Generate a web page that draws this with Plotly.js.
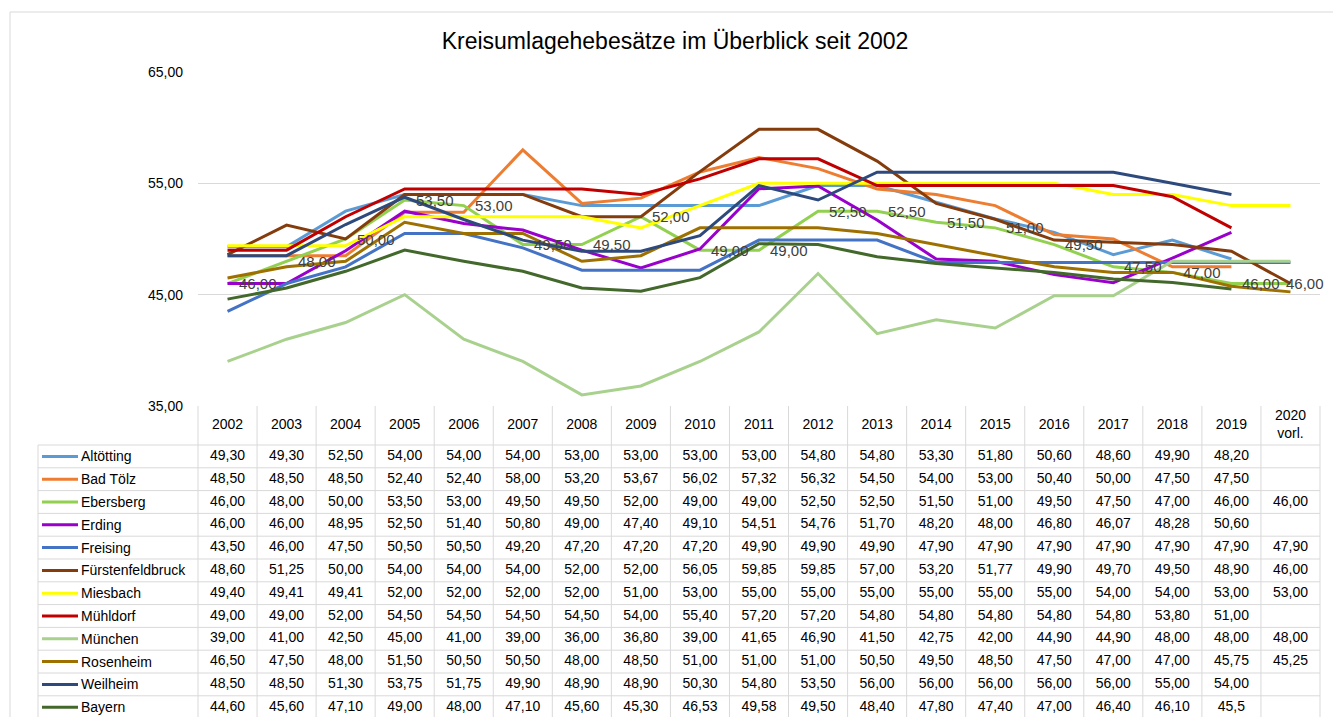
<!DOCTYPE html>
<html>
<head>
<meta charset="utf-8">
<script src="https://cdn.plot.ly/plotly-3.0.1.min.js"></script>
<style>
  html, body { margin: 0; padding: 0; background: #fff; }
  #chart { width: 1333px; height: 717px; }
</style>
</head>
<body>
<div id="chart"></div>
<script>
// ---------------- DATA ----------------
const years = ['2002','2003','2004','2005','2006','2007','2008','2009','2010','2011','2012','2013','2014','2015','2016','2017','2018','2019','2020<br>vorl.'];

const seriesNames = ['Altötting','Bad Tölz','Ebersberg','Erding','Freising','Fürstenfeldbruck','Miesbach','Mühldorf','München','Rosenheim','Weilheim','Bayern'];

const altoetting       = [49.30,49.30,52.50,54.00,54.00,54.00,53.00,53.00,53.00,53.00,54.80,54.80,53.30,51.80,50.60,48.60,49.90,48.20,null];
const badToelz         = [48.50,48.50,48.50,52.40,52.40,58.00,53.20,53.67,56.02,57.32,56.32,54.50,54.00,53.00,50.40,50.00,47.50,47.50,null];
const ebersberg        = [46.00,48.00,50.00,53.50,53.00,49.50,49.50,52.00,49.00,49.00,52.50,52.50,51.50,51.00,49.50,47.50,47.00,46.00,46.00];
const erding           = [46.00,46.00,48.95,52.50,51.40,50.80,49.00,47.40,49.10,54.51,54.76,51.70,48.20,48.00,46.80,46.07,48.28,50.60,null];
const freising         = [43.50,46.00,47.50,50.50,50.50,49.20,47.20,47.20,47.20,49.90,49.90,49.90,47.90,47.90,47.90,47.90,47.90,47.90,47.90];
const fuerstenfeldbruck= [48.60,51.25,50.00,54.00,54.00,54.00,52.00,52.00,56.05,59.85,59.85,57.00,53.20,51.77,49.90,49.70,49.50,48.90,46.00];
const miesbach         = [49.40,49.41,49.41,52.00,52.00,52.00,52.00,51.00,53.00,55.00,55.00,55.00,55.00,55.00,55.00,54.00,54.00,53.00,53.00];
const muehldorf        = [49.00,49.00,52.00,54.50,54.50,54.50,54.50,54.00,55.40,57.20,57.20,54.80,54.80,54.80,54.80,54.80,53.80,51.00,null];
const muenchen         = [39.00,41.00,42.50,45.00,41.00,39.00,36.00,36.80,39.00,41.65,46.90,41.50,42.75,42.00,44.90,44.90,48.00,48.00,48.00];
const rosenheim        = [46.50,47.50,48.00,51.50,50.50,50.50,48.00,48.50,51.00,51.00,51.00,50.50,49.50,48.50,47.50,47.00,47.00,45.75,45.25];
const weilheim         = [48.50,48.50,51.30,53.75,51.75,49.90,48.90,48.90,50.30,54.80,53.50,56.00,56.00,56.00,56.00,56.00,55.00,54.00,null];
const bayern           = [44.60,45.60,47.10,49.00,48.00,47.10,45.60,45.30,46.53,49.58,49.50,48.40,47.80,47.40,47.00,46.40,46.10,45.50,null];

// cells printed differently in the source table
const tableTextOverrides = [{row: 11, col: 17, text: '45,5'}];

const yTicks = [35, 45, 55, 65];
const chartTitle = 'Kreisumlagehebesätze im Überblick seit 2002';

// ---------------- STYLE ----------------
const allSeries = [altoetting,badToelz,ebersberg,erding,freising,fuerstenfeldbruck,miesbach,muehldorf,muenchen,rosenheim,weilheim,bayern];
const colors = ['#5B9BD5','#ED7D31','#92D050','#9900CC','#4472C4','#843C0C','#FFFF00','#C00000','#A9D18E','#9E7000','#2E4A7D','#43682B'];
const labelledSeries = 2; // Ebersberg carries data labels

const W = 1333, H = 717;
const px = x => x / W;
const py = y => 1 - y / H;
const FONT = 'Liberation Sans, Arial, sans-serif';
const GRID = '#d9d9d9';

const plotLeft = 198, plotRight = 1320, plotTop = 72, plotBottom = 406;
const ROWH = 22.8;
const HEAD = 39 / ROWH;
const tableUnits = (H - plotBottom) / ROWH;
const xIdx = years.map((_, i) => i);
const fmt = v => (v === null ? '' : v.toFixed(2).replace('.', ','));

const traces = [];
allSeries.forEach((s, i) => {
  traces.push({
    type: 'scatter', mode: 'lines', x: xIdx, y: s, name: seriesNames[i],
    line: {color: colors[i], width: 3}, connectgaps: false,
    xaxis: 'x', yaxis: 'y', hoverinfo: 'skip', showlegend: false
  });
});

// table header
traces.push({
  type: 'scatter', mode: 'text', x: xIdx, y: xIdx.map(() => HEAD / 2), text: years,
  textfont: {family: FONT, size: 14, color: '#000'}, textposition: 'middle center',
  xaxis: 'x', yaxis: 'y2', hoverinfo: 'skip', showlegend: false, cliponaxis: false
});
// table body
allSeries.forEach((s, r) => {
  const txt = s.map((v, c) => {
    const o = tableTextOverrides.find(t => t.row === r && t.col === c);
    return o ? o.text : fmt(v);
  });
  traces.push({
    type: 'scatter', mode: 'text', x: xIdx, y: xIdx.map(() => HEAD + r + 0.5), text: txt,
    textfont: {family: FONT, size: 14, color: '#000'}, textposition: 'middle center',
    xaxis: 'x', yaxis: 'y2', hoverinfo: 'skip', showlegend: false, cliponaxis: false
  });
});

const shapes = [];
const annotations = [];
// outer chart border
shapes.push({type: 'rect', xref: 'paper', yref: 'paper', x0: px(10), x1: 1.2, y0: -0.2, y1: py(12),
  line: {color: GRID, width: 1}, layer: 'below'});
// table verticals
const nCols = years.length;
for (let k = 0; k <= nCols; k++) {
  const xx = px(plotLeft) + k * (px(plotRight) - px(plotLeft)) / nCols;
  shapes.push({type: 'line', xref: 'paper', yref: 'paper', x0: xx, x1: xx, y0: 0, y1: py(plotBottom),
    line: {color: GRID, width: 1}});
}
// left border of label column
shapes.push({type: 'line', xref: 'paper', yref: 'paper', x0: px(38), x1: px(38), y0: 0, y1: py(plotBottom + 39),
  line: {color: GRID, width: 1}});
// horizontals
for (let r = 0; r <= seriesNames.length; r++) {
  shapes.push({type: 'line', xref: 'paper', yref: 'y2', x0: px(38), x1: px(plotRight), y0: HEAD + r, y1: HEAD + r,
    line: {color: GRID, width: 1}});
}
// row labels with line keys
seriesNames.forEach((n, r) => {
  shapes.push({type: 'line', xref: 'paper', yref: 'y2', x0: px(42), x1: px(78), y0: HEAD + r + 0.5, y1: HEAD + r + 0.5,
    line: {color: colors[r], width: 3}});
  annotations.push({xref: 'paper', yref: 'y2', x: px(79), y: HEAD + r + 0.5, text: n, showarrow: false,
    xanchor: 'left', yanchor: 'middle', font: {family: FONT, size: 14, color: '#000'}});
});
// data labels for Ebersberg (last one pulled inside the chart, as the source does)
const lab = allSeries[labelledSeries];
lab.forEach((v, i) => {
  if (v === null) return;
  const isLast = i === lab.length - 1;
  annotations.push({xref: 'x', yref: 'y', x: i, y: v, text: fmt(v), showarrow: false,
    xanchor: 'left', yanchor: 'middle', xshift: isLast ? -6 : 9,
    font: {family: FONT, size: 15, color: '#404040'}});
});

const layout = {
  width: W, height: H,
  margin: {l: 0, r: 0, t: 0, b: 0},
  paper_bgcolor: '#fff', plot_bgcolor: 'rgba(0,0,0,0)',
  separators: ',.',
  title: {text: chartTitle, x: px(675), xanchor: 'center', y: py(41), yanchor: 'middle',
    font: {family: FONT, size: 23, color: '#000'}},
  xaxis: {domain: [px(plotLeft), px(plotRight)], range: [-0.5, nCols - 0.5], showticklabels: false,
    showgrid: false, zeroline: false, showline: false, ticks: '', fixedrange: true},
  yaxis: {domain: [py(plotBottom), py(plotTop)], range: [35, 65], tickvals: yTicks, tickformat: '.2f',
    showgrid: true, gridcolor: GRID, gridwidth: 1, zeroline: false, showline: false, ticks: '',
    ticklabelstandoff: 14, tickfont: {family: FONT, size: 14, color: '#000'}, fixedrange: true},
  yaxis2: {domain: [0, py(plotBottom)], range: [tableUnits, 0], anchor: 'x', visible: false,
    showgrid: false, zeroline: false, fixedrange: true},
  shapes: shapes,
  annotations: annotations,
  showlegend: false
};

Plotly.newPlot('chart', traces, layout, {displayModeBar: false, staticPlot: true});
</script>
</body>
</html>
